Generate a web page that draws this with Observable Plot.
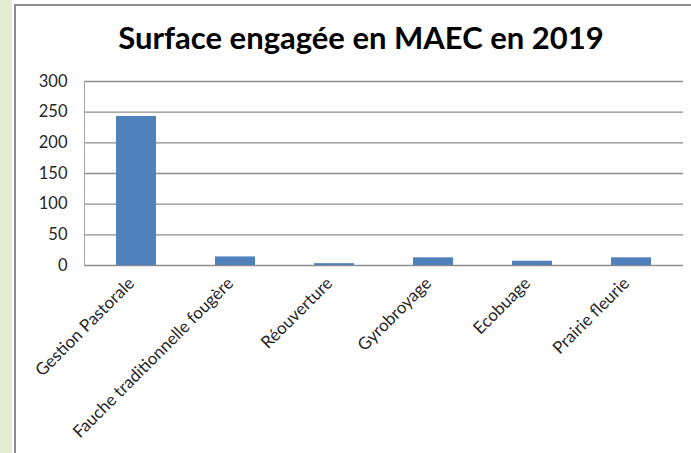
<!DOCTYPE html>
<html>
<head>
<meta charset="utf-8">
<script src="https://cdn.jsdelivr.net/npm/d3@7"></script>
<script src="https://cdn.jsdelivr.net/npm/@observablehq/plot@0.6"></script>
<style>
  html, body { margin: 0; padding: 0; background: #fff; }
  #wrap { position: relative; width: 691px; height: 453px; overflow: hidden; background: #fff; font-family: Lato, "Open Sans", sans-serif; }
  #strip { position: absolute; left: 0; top: 0; width: 12px; height: 453px; background: #e5ecd3; }
  #frame { position: absolute; left: 14px; top: 4px; right: -4px; bottom: -4px; border-left: 2px solid #8c8c8c; border-top: 2px solid #8c8c8c; }
  #title { position: absolute; left: 0; top: 22px; width: 691px; padding-left: 31px; box-sizing: border-box; text-align: center; font: bold 31px/31px Lato, sans-serif; color: #000; margin: 0; }
  #chart { position: absolute; left: 0; top: 0; }
</style>
</head>
<body>
<div id="wrap">
  <div id="strip"></div>
  <div id="frame"></div>
  <h1 id="title">Surface engagée en MAEC en 2019</h1>
  <div id="chart"></div>
</div>
<script>
const categories = ["Gestion Pastorale", "Fauche traditionnelle fougère", "Réouverture", "Gyrobroyage", "Ecobuage", "Prairie fleurie"];
const values = [243, 14, 3, 12.5, 7, 12.5];
const yTicks = [0, 50, 100, 150, 200, 250, 300];

const data = categories.map((c, i) => ({category: c, value: values[i]}));

const chart = Plot.plot({
  width: 691,
  height: 453,
  marginLeft: 84,
  marginRight: 8,
  marginTop: 81,
  marginBottom: 188,
  style: { fontFamily: "Lato, sans-serif", fontSize: "16.5px", color: "#262626", background: "transparent" },
  x: { domain: categories, paddingInner: 0.6, paddingOuter: 0.3, label: null },
  y: { domain: [0, 300], label: null },
  marks: [
    Plot.gridY(yTicks, { stroke: "#8c8c8c", strokeOpacity: 1, strokeWidth: 1.3 }),
    Plot.frame({ anchor: "left", stroke: "#a6a6a6" }),
    Plot.barY(data, { x: "category", y: "value", fill: "#4f81bd" }),
    Plot.axisY(yTicks, { tickSize: 0, tickPadding: 17, label: null, fontSize: 16.5 }),
    Plot.axisX({ tickSize: 0, tickPadding: 15, dx: -5, tickRotate: -45, label: null, fontSize: 17 })
  ]
});
document.getElementById("chart").appendChild(chart);
</script>
</body>
</html>
